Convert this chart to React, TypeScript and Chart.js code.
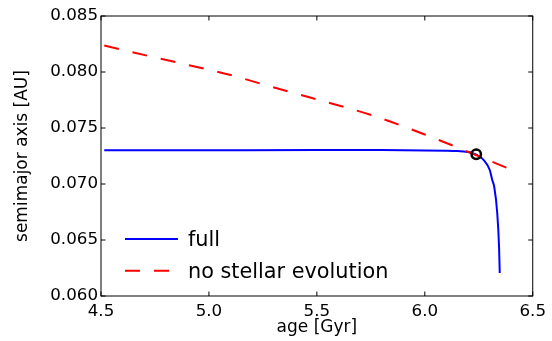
import React, { useEffect, useRef } from "react";
import { Chart, registerables } from "chart.js";

Chart.register(...registerables);

// ---- data ----
const fullAge = [4.515, 5.0, 5.5, 5.8, 6.0, 6.1, 6.15, 6.18, 6.2083, 6.2407, 6.2731, 6.3009, 6.3125, 6.3218, 6.3356, 6.344, 6.3472];
const fullA = [0.07301, 0.07302, 0.07303, 0.07303, 0.073, 0.07297, 0.07294, 0.0729, 0.07284, 0.07259, 0.07214, 0.07125, 0.07036, 0.06973, 0.06741, 0.06438, 0.06205];
const noEvoAge = [4.515, 4.75, 5.0, 5.1125, 5.25, 5.5, 5.7606, 6.0, 6.25, 6.378];
const noEvoA = [0.08236, 0.0813, 0.0802, 0.07967, 0.0789, 0.07755, 0.0761, 0.07442, 0.07248, 0.07146];
const markerAge = [6.2384];
const markerA = [0.07265];
const seriesLabels = ["full", "no stellar evolution"];
const xTickValues = [4.5, 5.0, 5.5, 6.0, 6.5];
const xTickLabels = ["4.5", "5.0", "5.5", "6.0", "6.5"];
const yTickValues = [0.06, 0.065, 0.07, 0.075, 0.08, 0.085];
const yTickLabels = ["0.060", "0.065", "0.070", "0.075", "0.080", "0.085"];
const xTitle = "age [Gyr]";
const yTitle = "semimajor axis [AU]";

// ---- style ----
const FONT_FAMILY = "'DejaVu Sans', sans-serif";
const TICK_FONT_SIZE = 16.7;
const TITLE_FONT_SIZE = 17;
const LEGEND_FONT_SIZE = 20.8;
const W = 552;
const H = 341;
const TICK_LEN = 4.5;

const frameAndTicks = {
  id: "frameAndTicks",
  afterDatasetsDraw(chart: any) {
    const { ctx, chartArea: a, scales } = chart;
    ctx.save();
    ctx.strokeStyle = "#000";
    ctx.lineWidth = 1;
    ctx.strokeRect(a.left, a.top, a.right - a.left, a.bottom - a.top);
    ctx.beginPath();
    for (const v of xTickValues) {
      const px = scales.x.getPixelForValue(v);
      ctx.moveTo(px, a.bottom);
      ctx.lineTo(px, a.bottom - TICK_LEN);
      ctx.moveTo(px, a.top);
      ctx.lineTo(px, a.top + TICK_LEN);
    }
    for (const v of yTickValues) {
      const py = scales.y.getPixelForValue(v);
      ctx.moveTo(a.left, py);
      ctx.lineTo(a.left + TICK_LEN, py);
      ctx.moveTo(a.right, py);
      ctx.lineTo(a.right - TICK_LEN, py);
    }
    ctx.stroke();
    ctx.restore();
  },
};

const mplLegend = {
  id: "mplLegend",
  afterDraw(chart: any) {
    const { ctx, chartArea: a } = chart;
    const rows = [
      { ds: chart.data.datasets[1], y: a.bottom - 57 },
      { ds: chart.data.datasets[2], y: a.bottom - 25.3 },
    ];
    ctx.save();
    for (const r of rows) {
      ctx.beginPath();
      ctx.strokeStyle = r.ds.borderColor;
      ctx.lineWidth = r.ds.borderWidth;
      ctx.setLineDash(r.ds.borderDash || []);
      ctx.moveTo(a.left + 24, r.y);
      ctx.lineTo(a.left + 77, r.y);
      ctx.stroke();
      ctx.setLineDash([]);
      ctx.fillStyle = "#000";
      ctx.font = `${LEGEND_FONT_SIZE}px ${FONT_FAMILY}`;
      ctx.textBaseline = "alphabetic";
      ctx.textAlign = "left";
      ctx.fillText(r.ds.label, a.left + 87, r.y + 7);
    }
    ctx.restore();
  },
};

export default function App() {
  const ref = useRef<HTMLCanvasElement>(null);
  useEffect(() => {
    if (!ref.current) return;
    const tickFont = { family: FONT_FAMILY, size: TICK_FONT_SIZE };
    const titleFont = { family: FONT_FAMILY, size: TITLE_FONT_SIZE };
    const chart = new Chart(ref.current, {
      type: "line",
      data: {
        datasets: [
          {
            label: "marker",
            data: markerAge.map((x, i) => ({ x, y: markerA[i] })),
            showLine: false,
            pointRadius: 4.7,
            pointBorderWidth: 2.5,
            pointBorderColor: "#000",
            pointBackgroundColor: "rgba(0,0,0,0)",
            order: 0,
          },
          {
            label: seriesLabels[0],
            data: fullAge.map((x, i) => ({ x, y: fullA[i] })),
            borderColor: "#0000ff",
            borderWidth: 2,
            pointRadius: 0,
            cubicInterpolationMode: "monotone",
            fill: false,
            order: 2,
          },
          {
            label: seriesLabels[1],
            data: noEvoAge.map((x, i) => ({ x, y: noEvoA[i] })),
            borderColor: "#ff0000",
            borderWidth: 2,
            borderDash: [15, 14],
            pointRadius: 0,
            cubicInterpolationMode: "monotone",
            fill: false,
            order: 1,
          },
        ],
      },
      options: {
        responsive: false,
        animation: false,
        events: [],
        layout: { padding: { left: 0, top: 16, right: 19, bottom: 0 } },
        plugins: { legend: { display: false }, tooltip: { enabled: false } },
        scales: {
          x: {
            type: "linear",
            min: 4.5,
            max: 6.5,
            grid: { display: false, drawTicks: false },
            border: { display: false },
            afterBuildTicks: (s: any) => {
              s.ticks = xTickValues.map((v) => ({ value: v }));
            },
            afterFit: (s: any) => {
              s.height = 45;
            },
            ticks: {
              autoSkip: false,
              maxRotation: 0,
              padding: 6,
              color: "#000",
              font: tickFont,
              callback: (v: any) => xTickLabels[xTickValues.indexOf(Number(v))] ?? "",
            },
            title: { display: true, text: xTitle, color: "#000", font: titleFont, padding: { top: 0, bottom: 3.5 } },
          },
          y: {
            type: "linear",
            min: 0.06,
            max: 0.085,
            grid: { display: false, drawTicks: false },
            border: { display: false },
            afterBuildTicks: (s: any) => {
              s.ticks = yTickValues.map((v) => ({ value: v }));
            },
            afterFit: (s: any) => {
              s.width = 101;
            },
            ticks: {
              autoSkip: false,
              padding: 3,
              color: "#000",
              font: tickFont,
              callback: (v: any) => {
                const i = yTickValues.findIndex((t) => Math.abs(t - Number(v)) < 1e-9);
                return i >= 0 ? yTickLabels[i] : "";
              },
            },
            title: { display: true, text: yTitle, color: "#000", font: titleFont, padding: { top: 12.5, bottom: 0 } },
          },
        },
      },
      plugins: [frameAndTicks, mplLegend],
    } as any);
    return () => chart.destroy();
  }, []);
  return (
    <div style={{ position: "fixed", left: 0, top: 0, width: W, height: H, background: "#fff" }}>
      <canvas ref={ref} width={W} height={H} style={{ width: W, height: H, display: "block" }} />
    </div>
  );
}
